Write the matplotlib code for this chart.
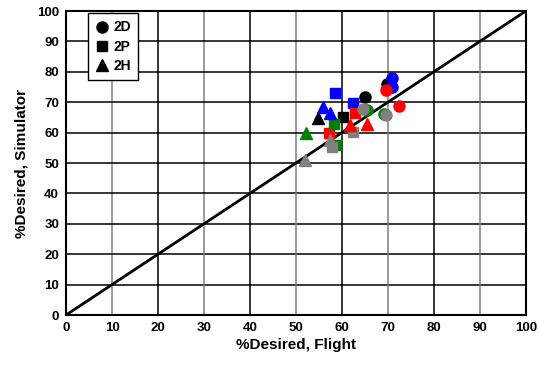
import numpy as np
import matplotlib.pyplot as plt

plt.rcParams['font.family'] = ['Liberation Sans', 'DejaVu Sans']
plt.rcParams['font.weight'] = 'bold'

# data (flight %, simulator %) per config and pilot colour
colors = {"black": "#000000", "blue": "#0000ff", "red": "#ff0000",
          "green": "#008000", "gray": "#808080"}

d2_x = {"black": [65.0, 69.9], "blue": [71.0, 70.8], "red": [69.6, 72.4],
        "green": [65.4, 69.1], "gray": [64.5, 69.7]}
d2_y = {"black": [71.8, 76.0], "blue": [77.9, 75.1], "red": [74.0, 68.8],
        "green": [67.4, 66.0], "gray": [67.7, 65.8]}

p2_x = {"black": [60.3], "blue": [58.6, 62.5], "red": [62.8, 57.2],
        "green": [58.2, 58.8], "gray": [57.8, 62.5]}
p2_y = {"black": [65.0], "blue": [72.9, 69.8], "red": [66.5, 60.0],
        "green": [63.0, 56.0], "gray": [55.4, 60.3]}

h2_x = {"black": [54.9], "blue": [55.8, 57.4], "red": [65.5, 61.7],
        "green": [52.2], "gray": [52.0, 57.4]}
h2_y = {"black": [64.9], "blue": [68.5, 66.5], "red": [62.8, 62.5],
        "green": [59.8], "gray": [51.0, 57.6]}

fig = plt.figure(figsize=(5.39, 3.68), dpi=100, facecolor="white")
ax = fig.add_axes([0.1225, 0.144, 0.853, 0.826])

# grid
for v in range(10, 100, 10):
    ax.axvline(v, color="black" if v % 20 == 0 else "#808080", lw=1.1, zorder=1)
    ax.axhline(v, color="black", lw=1.1, zorder=1)

ax.plot([0, 100], [0, 100], color="black", lw=2, zorder=2)

order = ["black", "blue", "red", "green", "gray"]
for c in order:
    ax.plot(p2_x[c], p2_y[c], ls="none", marker="s", ms=7.5, color=colors[c], zorder=3)
for c in order:
    ax.plot(h2_x[c], h2_y[c], ls="none", marker="^", ms=8, color=colors[c], zorder=3)
for c in order:
    ax.plot(d2_x[c], d2_y[c], ls="none", marker="o", ms=8, color=colors[c], zorder=3)

# legend handles
h1, = ax.plot([], [], ls="none", marker="o", ms=8, color="black", label="2D")
h2, = ax.plot([], [], ls="none", marker="s", ms=7.5, color="black", label="2P")
h3, = ax.plot([], [], ls="none", marker="^", ms=8, color="black", label="2H")
leg = ax.legend(handles=[h1, h2, h3], loc="upper left", bbox_to_anchor=(0.033, 1.015),
                fancybox=False, framealpha=1, edgecolor="black", fontsize=10,
                handletextpad=0.3, handlelength=1.0, borderpad=0.5, labelspacing=0.38)
leg.get_frame().set_linewidth(1.0)

ax.set_xlim(0, 100)
ax.set_ylim(0, 100)
ax.set_xticks(range(0, 101, 10))
ax.set_yticks(range(0, 101, 10))
ax.tick_params(labelsize=9.5, length=0, pad=5)
for lab in ax.get_xticklabels() + ax.get_yticklabels():
    lab.set_fontweight("bold")
for s in ax.spines.values():
    s.set_linewidth(1.5)

ax.set_xlabel("%Desired, Flight", fontsize=11, fontweight="bold", labelpad=3)
ax.set_ylabel("%Desired, Simulator", fontsize=11, fontweight="bold", labelpad=6)

fig.savefig("out.png", dpi=100)
